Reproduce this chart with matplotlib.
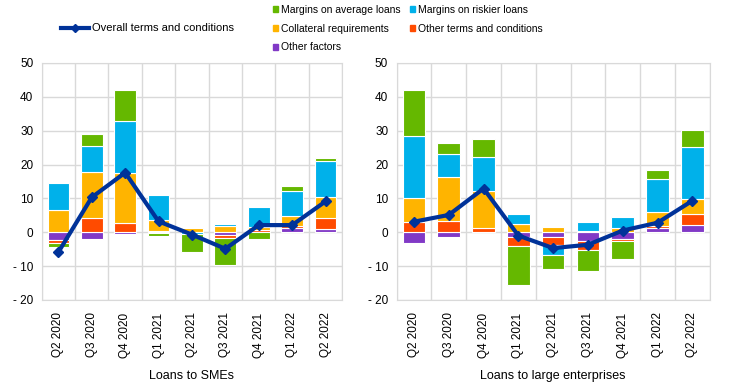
import numpy as np
import matplotlib
matplotlib.use('Agg')
import matplotlib.pyplot as plt
from matplotlib.lines import Line2D
from matplotlib.patches import Patch

plt.rcParams['font.family'] = ['Liberation Sans', 'DejaVu Sans']

quarters = ['Q2 2020', 'Q3 2020', 'Q4 2020', 'Q1 2021', 'Q2 2021',
            'Q3 2021', 'Q4 2021', 'Q1 2022', 'Q2 2022']
yticks = [-20, -10, 0, 10, 20, 30, 40, 50]
ytick_labels = ['- 20', '- 10', '0', '10', '20', '30', '40', '50']

# Loans to SMEs
sme_other_factors = [-2.4, -2.0, -0.6, -0.3, 0.0, -0.8, 0.0, 1.1, 0.9]
sme_other_terms   = [-0.8, 4.2, 2.8, 0.5, 0.2, -0.8, 0.6, 0.7, 3.3]
sme_collateral    = [6.5, 13.5, 14.6, 3.2, 1.1, 1.8, 1.0, 3.0, 6.2]
sme_riskier       = [8.0, 7.8, 15.4, 7.3, -0.4, 0.7, 5.9, 7.5, 10.6]
sme_average       = [-1.2, 3.6, 9.3, -0.9, -5.5, -8.2, -2.0, 1.4, 0.8]
sme_overall       = [-5.9, 10.3, 17.6, 3.2, -0.7, -4.9, 2.1, 2.1, 9.1]

# Loans to large enterprises
le_other_factors = [-3.2, -1.4, 0.0, -1.4, -1.4, -2.7, -2.0, 1.3, 2.1]
le_other_terms   = [3.1, 3.4, 1.2, -2.8, -2.5, -2.6, -0.7, 0.6, 3.2]
le_collateral    = [7.0, 12.8, 11.1, 2.3, 1.6, 0.5, 1.2, 4.2, 4.4]
le_riskier       = [18.4, 7.0, 10.0, 3.2, -2.7, 2.4, 3.2, 9.5, 15.5]
le_average       = [13.4, 3.2, 5.1, -11.3, -4.2, -6.1, -5.2, 2.8, 5.1]
le_overall       = [3.1, 5.1, 12.9, -1.0, -4.7, -3.7, 0.5, 2.8, 9.3]

names = ['Other factors', 'Other terms and conditions', 'Collateral requirements',
         'Margins on riskier loans', 'Margins on average loans']
colors = ['#8139C6', '#FF4B00', '#FFB400', '#00B1EA', '#65B800']
line_color = '#003299'
grid_color = '#D9D9D9'

fig = plt.figure(figsize=(7.44, 3.84), dpi=100)
ax1 = fig.add_axes([0.056, 0.219, 0.404, 0.617])
ax2 = fig.add_axes([0.533, 0.219, 0.421, 0.617])


def draw(ax, series, overall, xlabel):
    x = np.arange(len(quarters))
    pos = np.zeros(len(quarters))
    neg = np.zeros(len(quarters))
    # stack positives and negatives separately, same series order
    for vals, col in zip(series, colors):
        vals = np.array(vals)
        bottom = np.where(vals >= 0, pos, neg)
        ax.bar(x, vals, 0.65, bottom=bottom, color=col, edgecolor='white',
               linewidth=0.8, zorder=2)
        pos = pos + np.where(vals >= 0, vals, 0)
        neg = neg + np.where(vals < 0, vals, 0)
    ax.plot(x, overall, color=line_color, lw=3, marker='D', ms=5, zorder=3)
    ax.set_xlim(-0.5, len(quarters) - 0.5)
    ax.set_ylim(-20, 50)
    ax.set_yticks(yticks)
    ax.set_yticklabels(ytick_labels)
    ax.set_xticks(x)
    ax.set_xticklabels(quarters, rotation=90, fontsize=8.5)
    ax.tick_params(axis='y', labelsize=8.5, length=0, pad=6)
    ax.tick_params(axis='x', length=0, pad=9)
    ax.set_xticks(np.arange(-0.5, len(quarters), 1), minor=True)
    ax.tick_params(axis='x', which='minor', length=0)
    ax.grid(True, axis='y', color=grid_color, lw=1, zorder=0)
    ax.grid(True, axis='x', which='minor', color=grid_color, lw=1, zorder=0)
    ax.grid(False, axis='x', which='major')
    for s in ax.spines.values():
        s.set_color(grid_color)
    ax.set_xlabel(xlabel, fontsize=9, labelpad=9)


draw(ax1, [sme_other_factors, sme_other_terms, sme_collateral, sme_riskier, sme_average],
     sme_overall, 'Loans to SMEs')
draw(ax2, [le_other_factors, le_other_terms, le_collateral, le_riskier, le_average],
     le_overall, 'Loans to large enterprises')

line_handle = Line2D([], [], color=line_color, lw=3, marker='D', ms=4)
fig.legend([line_handle], ['Overall terms and conditions'], loc='upper left',
           bbox_to_anchor=(0.068, 0.965), frameon=False, fontsize=8,
           handlelength=2.6, handletextpad=0.2)

# column-first filling: avg, collateral, other factors | riskier, other terms
order = [4, 2, 0, 3, 1]
patches = [Patch(color=colors[i]) for i in order]
labels = [names[i] for i in order]
fig.legend(patches, labels, loc='upper left', bbox_to_anchor=(0.355, 1.012), ncol=2,
           frameon=False, fontsize=7.5, handlelength=0.45, handleheight=0.45,
           handletextpad=0.3, columnspacing=0.9, labelspacing=0.85)

fig.savefig('out.png', dpi=100)
